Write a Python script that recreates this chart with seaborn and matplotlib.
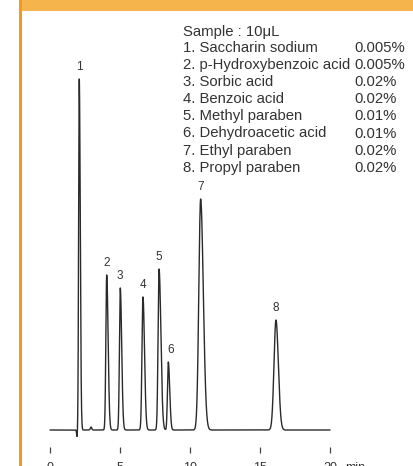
import numpy as np
import pandas as pd
import matplotlib
matplotlib.use("Agg")
import matplotlib.pyplot as plt
from matplotlib.patches import Rectangle
import seaborn as sns

# Peak table: retention time (min), height, left / right half-widths (min)
peak_ids = ["1", "2", "3", "4", "5", "6", "7", "8"]
retention = [2.09, 4.05, 5.02, 6.64, 7.79, 8.45, 10.76, 16.14]
heights = [351, 155, 142, 133, 161, 68, 231, 110]
sigma_left = [0.045, 0.06, 0.06, 0.07, 0.07, 0.06, 0.13, 0.14]
sigma_right = [0.07, 0.10, 0.10, 0.11, 0.13, 0.10, 0.19, 0.17]

# Small baseline disturbances (injection dip, minor bump)
minor_rt = [1.93, 2.93]
minor_h = [-7, 3]
minor_sigma = [0.03, 0.05]

sample_text = "Sample : 10μL"
compounds = ["1. Saccharin sodium", "2. p-Hydroxybenzoic acid", "3. Sorbic acid",
             "4. Benzoic acid", "5. Methyl paraben", "6. Dehydroacetic acid",
             "7. Ethyl paraben", "8. Propyl paraben"]
concentrations = ["0.005%", "0.005%", "0.02%", "0.02%", "0.01%", "0.01%", "0.02%", "0.02%"]

x_ticks = [0, 5, 10, 15, 20]

# Build chromatogram trace
t = np.arange(0, 20.0005, 0.002)
signal = np.zeros_like(t)
for rt, h, sl, sr in zip(retention, heights, sigma_left, sigma_right):
    s = np.where(t < rt, sl, sr)
    signal += h * np.exp(-0.5 * ((t - rt) / s) ** 2)
for rt, h, s in zip(minor_rt, minor_h, minor_sigma):
    signal += h * np.exp(-0.5 * ((t - rt) / s) ** 2)
df = pd.DataFrame({"time": t, "signal": signal})

sns.set_style("white")
plt.rcParams["font.family"] = ["Liberation Sans", "DejaVu Sans"]

W, H = 414, 466
fig = plt.figure(figsize=(W / 100, H / 100), dpi=100)
fig.patch.set_facecolor("white")

# Header band and side rule
fig.patches.append(Rectangle((21 / W, 1 - 11 / H), 1 - 21 / W, 11 / H,
                             transform=fig.transFigure, facecolor="#F6B54C",
                             edgecolor="none", zorder=0))
fig.patches.append(Rectangle((19 / W, 0), 2.5 / W, 1,
                             transform=fig.transFigure, facecolor="#F39A1E",
                             edgecolor="none", zorder=0))

bottom_px = 453
base_px = 430
ax = fig.add_axes([0, (H - bottom_px) / H, 1, bottom_px / H])
ax.patch.set_alpha(0)
sns.lineplot(data=df, x="time", y="signal", ax=ax, color="#2a2a2a",
             linewidth=1.0, estimator=None, sort=False)
ax.set_xlim(-50 / 14, (W - 50) / 14)
ax.set_ylim(base_px - bottom_px, base_px)
for sp in ax.spines.values():
    sp.set_visible(False)
ax.set_xlabel("")
ax.set_ylabel("")
ax.set_yticks([])
ax.set_xticks(x_ticks)
ax.set_xticklabels([str(v) for v in x_ticks])
ax.tick_params(axis="x", direction="in", length=4.5, width=0.9, color="#444444",
               pad=6.5, labelsize=9, labelcolor="#333333", bottom=True)
ax.text(20 + 25 / 14, base_px - bottom_px - 9, "min",
        ha="center", va="top", fontsize=9, color="#333333", clip_on=False)

# Peak numbers
for lab, rt, h in zip(peak_ids, retention, heights):
    dx = 0.2 if lab == "6" else 0.0
    ax.text(rt + dx, h + 6, lab, ha="center", va="bottom", fontsize=8.5,
            color="#333333")

# Sample / compound listing
fs = 10.7
fig.text(183 / W, 1 - 31.7 / H, sample_text, ha="left", va="center",
         fontsize=fs, color="#333333")
for i, (c, conc) in enumerate(zip(compounds, concentrations)):
    y = 47.5 + 17.2 * i
    fig.text(183 / W, 1 - y / H, c, ha="left", va="center", fontsize=fs,
             color="#333333")
    fig.text(354 / W, 1 - y / H, conc, ha="left", va="center", fontsize=fs,
             color="#333333")

fig.savefig("out.png", dpi=100)
